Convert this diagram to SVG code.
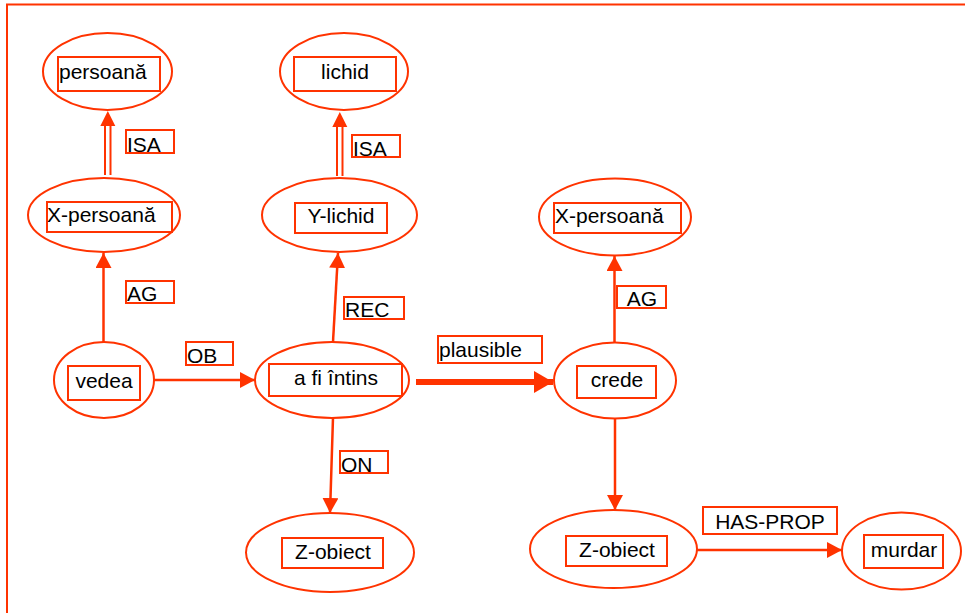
<svg xmlns="http://www.w3.org/2000/svg" width="965" height="613" viewBox="0 0 965 613">
  <style>
    .frame { fill: none; stroke: #ff3300; stroke-width: 2; }
    .node ellipse { fill: #ffffff; stroke: #ff3300; stroke-width: 2; }
    .box { fill: none; stroke: #ff3300; stroke-width: 2; }
    text { font-family: "Liberation Sans", Arial, sans-serif; font-size: 21px; fill: #000000; }
    .c { text-anchor: middle; }
    .edge { fill: none; stroke: #ff3300; stroke-width: 2.5; }
    .thick { fill: none; stroke: #ff3300; stroke-width: 6; }
    .head { fill: #ff3300; stroke: none; }
  </style>
  <defs>
    <marker id="arrow" markerUnits="userSpaceOnUse" markerWidth="16" markerHeight="16" refX="15" refY="8" orient="auto">
      <path d="M0,0 L15,8 L0,16 z" fill="#ff3300"/>
    </marker>
    <marker id="arrowBig" markerUnits="userSpaceOnUse" markerWidth="20" markerHeight="22" refX="19" refY="11" orient="auto">
      <path d="M0,0 L19,11 L0,22 z" fill="#ff3300"/>
    </marker>
    <!-- head of the double ISA link, tip at origin pointing up -->
    <path id="isaHead" class="head" d="M0,0 L7.5,15 L-7.5,15 z"/>
  </defs>

  <rect class="frame" x="7" y="4.5" width="975" height="630"/>

  <g id="connectors">
    <!-- ISA: X-persoană to persoană -->
    <line class="edge" x1="105" y1="175" x2="105" y2="124" style="stroke-width:2"/>
    <line class="edge" x1="110.5" y1="175" x2="110.5" y2="124" style="stroke-width:2"/>
    <use href="#isaHead" x="107.8" y="111"/>
    <rect class="box" x="126" y="130" width="48" height="23"/>
    <text x="127" y="152">ISA</text>

    <!-- ISA: Y-lichid to lichid -->
    <line class="edge" x1="337" y1="176" x2="337" y2="126" style="stroke-width:2"/>
    <line class="edge" x1="342.5" y1="176" x2="342.5" y2="126" style="stroke-width:2"/>
    <use href="#isaHead" x="339.8" y="112"/>
    <rect class="box" x="352" y="135" width="48" height="22"/>
    <text x="353" y="156">ISA</text>

    <!-- AG: vedea to X-persoană -->
    <line class="edge" x1="103.5" y1="342" x2="103.5" y2="253" marker-end="url(#arrow)"/>
    <rect class="box" x="126" y="281" width="48" height="22"/>
    <text x="127" y="301">AG</text>

    <!-- OB: vedea to a fi întins -->
    <line class="edge" x1="153" y1="380" x2="255" y2="380" marker-end="url(#arrow)"/>
    <rect class="box" x="186" y="342" width="47" height="23"/>
    <text x="187" y="363">OB</text>

    <!-- REC: a fi întins to Y-lichid -->
    <line class="edge" x1="333" y1="342" x2="338" y2="253" marker-end="url(#arrow)"/>
    <rect class="box" x="344" y="297" width="60" height="22"/>
    <text x="345" y="317">REC</text>

    <!-- plausible: a fi întins to crede -->
    <line class="thick" x1="416" y1="382" x2="553" y2="382" marker-end="url(#arrowBig)"/>
    <rect class="box" x="438" y="336" width="104" height="27"/>
    <text x="439" y="357">plausible</text>

    <!-- AG: crede to X-persoană -->
    <line class="edge" x1="614.5" y1="343" x2="614.5" y2="256" marker-end="url(#arrow)"/>
    <rect class="box" x="617" y="286" width="49" height="22"/>
    <text x="642" y="306" class="c">AG</text>

    <!-- ON: a fi întins to Z-obiect -->
    <line class="edge" x1="333" y1="418" x2="330" y2="513" marker-end="url(#arrow)"/>
    <rect class="box" x="340" y="451" width="48" height="22"/>
    <text x="341" y="472">ON</text>

    <!-- crede to Z-obiect -->
    <line class="edge" x1="615" y1="419" x2="615" y2="510" marker-end="url(#arrow)"/>

    <!-- HAS-PROP: Z-obiect to murdar -->
    <line class="edge" x1="697" y1="550" x2="842" y2="550" marker-end="url(#arrow)"/>
    <rect class="box" x="703" y="507" width="134" height="27"/>
    <text x="770" y="529" class="c">HAS-PROP</text>
  </g>

  <g id="persoana" class="node">
    <ellipse cx="107.5" cy="71.5" rx="64.5" ry="38.5"/>
    <rect class="box" x="58" y="57" width="102" height="34"/>
    <text x="59" y="79">persoană</text>
  </g>

  <g id="x-persoana-1" class="node">
    <ellipse cx="104" cy="215" rx="76" ry="37"/>
    <rect class="box" x="47" y="202" width="125" height="30"/>
    <text x="47" y="222">X-persoană</text>
  </g>

  <g id="lichid" class="node">
    <ellipse cx="344" cy="71.5" rx="64" ry="38.5"/>
    <rect class="box" x="294" y="57" width="102" height="34"/>
    <text x="345" y="79" class="c">lichid</text>
  </g>

  <g id="y-lichid" class="node">
    <ellipse cx="339.5" cy="215" rx="77.5" ry="37"/>
    <rect class="box" x="295" y="203" width="92" height="30"/>
    <text x="341" y="223" class="c">Y-lichid</text>
  </g>

  <g id="x-persoana-2" class="node">
    <ellipse cx="615" cy="217" rx="76" ry="38.5"/>
    <rect class="box" x="554" y="203" width="127" height="30"/>
    <text x="555" y="223">X-persoană</text>
  </g>

  <g id="vedea" class="node">
    <ellipse cx="104" cy="380" rx="50" ry="38"/>
    <rect class="box" x="68" y="366" width="72" height="34"/>
    <text x="104" y="388" class="c">vedea</text>
  </g>

  <g id="a-fi-intins" class="node">
    <ellipse cx="332" cy="380" rx="77" ry="38"/>
    <rect class="box" x="269" y="364" width="133" height="32"/>
    <text x="336" y="385" class="c">a fi întins</text>
  </g>

  <g id="crede" class="node">
    <ellipse cx="615" cy="380.5" rx="61" ry="38"/>
    <rect class="box" x="577" y="366" width="79" height="32"/>
    <text x="617" y="387" class="c">crede</text>
  </g>

  <g id="z-obiect-1" class="node">
    <ellipse cx="330" cy="552.5" rx="84" ry="39.5"/>
    <rect class="box" x="282" y="538" width="101" height="30"/>
    <text x="333" y="559" class="c">Z-obiect</text>
  </g>

  <g id="z-obiect-2" class="node">
    <ellipse cx="613.5" cy="549" rx="83.5" ry="39"/>
    <rect class="box" x="566" y="536" width="101" height="30"/>
    <text x="617" y="557" class="c">Z-obiect</text>
  </g>

  <g id="murdar" class="node">
    <ellipse cx="901.5" cy="551" rx="59.5" ry="38.5"/>
    <rect class="box" x="864" y="535" width="79" height="33"/>
    <text x="904" y="557" class="c">murdar</text>
  </g>
</svg>
